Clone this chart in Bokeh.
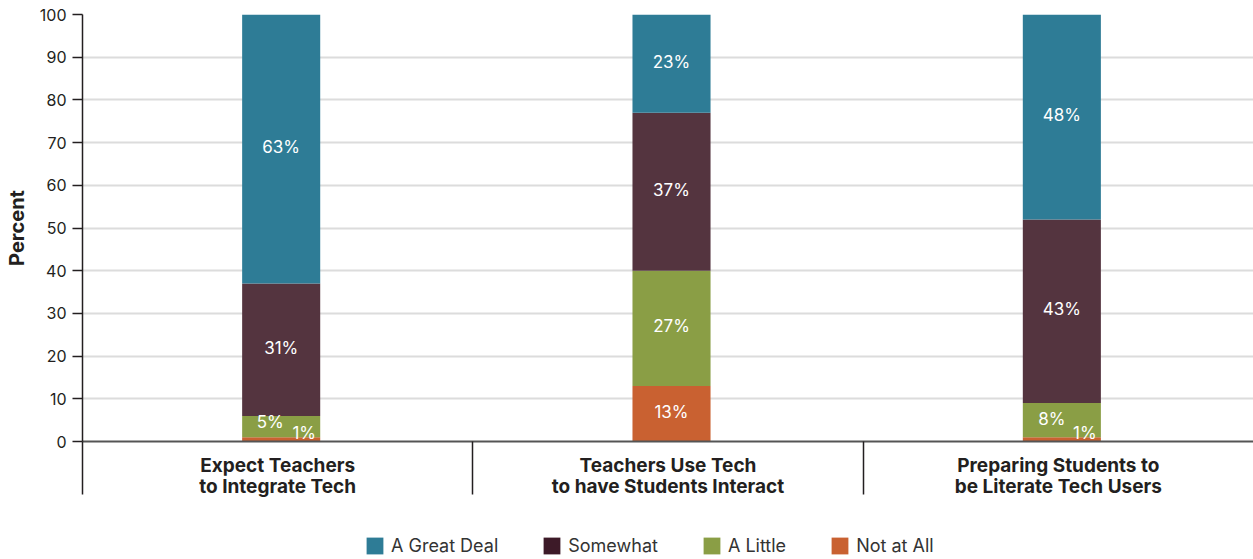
from bokeh.plotting import figure
from bokeh.layouts import column
from bokeh.models import (ColumnDataSource, FixedTicker, Legend, LegendItem,
                          Range1d, SingleIntervalTicker)
from bokeh.transform import dodge
from bokeh.embed import file_html
from bokeh.resources import INLINE
from bokeh.core.properties import value

categories = ["Expect Teachers\nto Integrate Tech",
              "Teachers Use Tech\nto have Students Interact",
              "Preparing Students to\nbe Literate Tech Users"]
series = ["Not at All", "A Little", "Somewhat", "A Great Deal"]
not_at_all = [1, 13, 1]
a_little = [5, 27, 8]
somewhat = [31, 37, 43]
great_deal = [63, 23, 48]

bar_colors = {"A Great Deal": "#2e7c96", "Somewhat": "#54343f",
              "A Little": "#8a9e45", "Not at All": "#c96131"}
legend_colors = {"A Great Deal": "#2e7c96", "Somewhat": "#3d1a28",
                 "A Little": "#8a9e45", "Not at All": "#c96131"}
legend_order = ["A Great Deal", "Somewhat", "A Little", "Not at All"]

FONT = "Inter"
TXT = "#231f20"
data = {"Not at All": not_at_all, "A Little": a_little,
        "Somewhat": somewhat, "A Great Deal": great_deal}

p = figure(width=1253, height=525, output_backend="svg", toolbar_location=None,
           x_range=Range1d(0, 3), y_range=Range1d(0, 100),
           min_border_left=82, min_border_right=0, min_border_top=14,
           min_border_bottom=84)
p.outline_line_color = None

xs = [i + 0.5 for i in range(len(categories))]
bottom = [0.0] * len(categories)
lx, ly, lt, lxo, lyo, lbase = [], [], [], [], [], []
for s in series:
    vals = data[s]
    top = [b + v for b, v in zip(bottom, vals)]
    src = ColumnDataSource(dict(x=xs, bottom=bottom, top=top))
    p.vbar(x=dodge("x", 0.009, range=p.x_range), bottom="bottom", top="top",
           width=0.2, source=src, fill_color=bar_colors[s], line_color=None)
    for i, v in enumerate(vals):
        mid = (bottom[i] + top[i]) / 2
        lx.append(xs[i] + 0.009)
        lt.append(f"{v}%")
        if v <= 2:
            ly.append(bottom[i]); lxo.append(23); lyo.append(1); lbase.append("bottom")
        elif v <= 6:
            ly.append(mid); lxo.append(-11); lyo.append(-5); lbase.append("middle")
        elif v <= 9:
            ly.append(mid); lxo.append(-10); lyo.append(-1); lbase.append("middle")
        else:
            ly.append(mid); lxo.append(0); lyo.append(-2); lbase.append("middle")
    bottom = top

lsrc = ColumnDataSource(dict(x=lx, y=ly, t=lt, xo=lxo, yo=lyo, b=lbase))
p.text(x="x", y="y", text="t", x_offset="xo", y_offset="yo", source=lsrc,
       text_align="center", text_baseline="b", text_color="white",
       text_font=value(FONT), text_font_size="17px")

# grid
p.xgrid.visible = False
p.ygrid.ticker = SingleIntervalTicker(interval=10)
p.ygrid.grid_line_color = "#dcdcdc"
p.ygrid.grid_line_width = 2

# y axis
p.yaxis.ticker = SingleIntervalTicker(interval=10)
p.yaxis.axis_label = "Percent"
p.yaxis.axis_label_text_font = FONT
p.yaxis.axis_label_text_font_style = "bold"
p.yaxis.axis_label_text_font_size = "20px"
p.yaxis.axis_label_text_color = TXT
p.yaxis.axis_label_standoff = 8
p.yaxis.major_label_text_font = FONT
p.yaxis.major_label_text_font_size = "16px"
p.yaxis.major_label_text_color = TXT
p.yaxis.major_label_standoff = 6
p.yaxis.axis_line_color = TXT
p.yaxis.axis_line_width = 1.5
p.yaxis.major_tick_line_color = TXT
p.yaxis.major_tick_line_width = 1.5
p.yaxis.major_tick_out = 10
p.yaxis.major_tick_in = 0
p.yaxis.minor_tick_line_color = None

# x axis: category labels, separators drawn as long minor ticks
p.xaxis.ticker = FixedTicker(ticks=xs, minor_ticks=[0, 1, 2])
p.xaxis.major_label_overrides = {x: c for x, c in zip(xs, categories)}
p.xaxis.major_label_text_font = FONT
p.xaxis.major_label_text_font_style = "bold"
p.xaxis.major_label_text_font_size = "19px"
p.xaxis.major_label_text_color = TXT
p.xaxis.major_label_text_line_height = 0.95
p.xaxis.major_label_standoff = -41
p.xaxis.major_tick_line_color = None
p.xaxis.axis_line_color = "#555555"
p.xaxis.axis_line_width = 2
p.xaxis.minor_tick_line_color = TXT
p.xaxis.minor_tick_line_width = 1.5
p.xaxis.minor_tick_out = 53
p.xaxis.minor_tick_in = 0

# legend in its own strip below
lg = figure(width=1253, height=34, output_backend="svg", toolbar_location=None,
            x_range=Range1d(0, 1), y_range=Range1d(0, 1),
            x_axis_location=None, y_axis_location=None,
            min_border_left=0, min_border_right=0, min_border_top=0,
            min_border_bottom=0)
lg.outline_line_color = None
lg.grid.visible = False
items = []
for s in legend_order:
    r = lg.vbar(x=[5], top=[1], width=0.2, fill_color=legend_colors[s], line_color=None)
    items.append(LegendItem(label=s, renderers=[r]))
legend = Legend(items=items, orientation="horizontal", location=(282, 3),
                glyph_width=21, glyph_height=21, label_height=21,
                label_standoff=6, spacing=43, padding=0, margin=0,
                border_line_color=None, background_fill_alpha=0,
                label_text_font=FONT, label_text_font_size="18px",
                label_text_color="#333333")
lg.add_layout(legend, "center")

layout = column(p, lg, spacing=0)
open("out.html", "w").write(file_html(layout, INLINE))
